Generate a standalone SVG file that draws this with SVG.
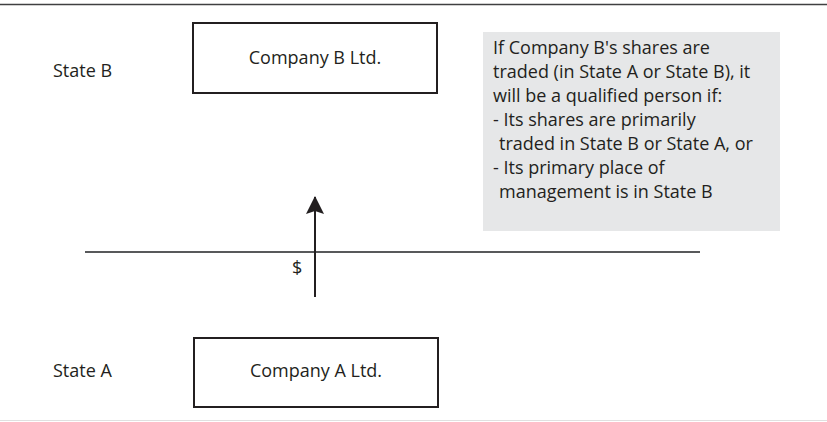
<svg xmlns="http://www.w3.org/2000/svg" width="827" height="422" viewBox="0 0 827 422">
<style>
text{font-family:"Open Sans","Noto Sans","Liberation Sans",sans-serif;font-size:18px;fill:#231f20}
.box{fill:#fff;stroke:#231f20;stroke-width:2}
.c{text-anchor:middle}
</style>
<defs>
<marker id="ah" markerWidth="18" markerHeight="18" viewBox="0 0 18 18" refX="17" refY="9" orient="auto" markerUnits="userSpaceOnUse">
<path d="M18 9 L0 0 L3 9 L0 18 Z" fill="#231f20"/>
</marker>
</defs>
<rect width="827" height="422" fill="#fff"/>
<line x1="0" y1="4.5" x2="827" y2="4.5" stroke="#404041" stroke-width="1.5"/>
<line x1="0" y1="420.5" x2="827" y2="420.5" stroke="#e0e0e0" stroke-width="1"/>
<line x1="85" y1="252" x2="700" y2="252" stroke="#58595b" stroke-width="2"/>
<g id="stateB"><text x="53" y="77">State B</text></g>
<g id="stateA"><text x="53" y="377">State A</text></g>
<g id="companyB">
<rect class="box" x="193" y="23" width="244" height="70"/>
<text class="c" x="315" y="64">Company B Ltd.</text>
</g>
<g id="companyA">
<rect class="box" x="194" y="338" width="244" height="69"/>
<text class="c" x="316" y="377">Company A Ltd.</text>
</g>
<g id="note">
<rect x="483" y="32" width="297" height="199" fill="#e6e7e8"/>
<text x="493" y="54">If Company B's shares are</text>
<text x="493" y="78">traded (in State A or State B), it</text>
<text x="493" y="102">will be a qualified person if:</text>
<text x="493" y="126">- Its shares are primarily</text>
<text x="499" y="150">traded in State B or State A, or</text>
<text x="493" y="174">- Its primary place of</text>
<text x="499" y="198">management is in State B</text>
</g>
<g id="connectors">
<line x1="315" y1="297" x2="315" y2="197" stroke="#231f20" stroke-width="2" marker-end="url(#ah)"/>
<text x="292" y="274">$</text>
</g>
</svg>
